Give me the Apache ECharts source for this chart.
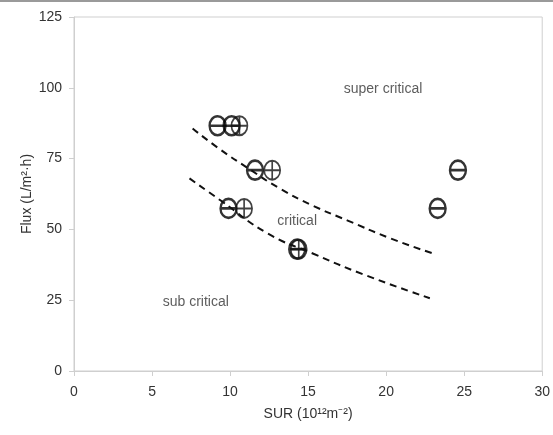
<!DOCTYPE html>
<html>
<head>
<meta charset="utf-8">
<script src="https://cdn.jsdelivr.net/npm/echarts@6/dist/echarts.min.js"></script>
<style>
  html, body { margin: 0; padding: 0; background: #fff; }
  #chart { width: 553px; height: 435px; }
</style>
</head>
<body>
<div id="chart"></div>
<script>
const xTicks = [0, 5, 10, 15, 20, 25, 30];
const yTicks = [0, 25, 50, 75, 100, 125];

// circle with horizontal bar
const barPoints = [
  [9.2, 86.6], [10.1, 86.6], [11.6, 70.9], [9.9, 57.4],
  [14.3, 43.0], [23.3, 57.4], [24.6, 70.9],
];
// circle with cross
const crossPoints = [
  [10.6, 86.6], [12.7, 70.9], [10.9, 57.4], [14.4, 43.0],
];

// dashed boundaries
const upperLine = [
  [7.6, 85.6], [9.3, 78.5], [11.1, 71.8], [13.2, 64.4],
  [15.3, 58.4], [17.5, 53.2], [20.2, 47.0], [23.0, 41.5],
];
const lowerLine = [
  [7.4, 68.0], [9.4, 60.2], [12.4, 48.6], [15.3, 41.5],
  [18.5, 34.2], [22.8, 25.7],
];

const regionLabels = ["super critical", "critical", "sub critical"];
const regionPos = [[19.8, 99.6], [14.3, 52.8], [7.8, 24.3]];

const ringBar = "path://M0,10 A10,10 0 1,1 20,10 A10,10 0 1,1 0,10 Z M0,10 L20,10";
const ringCross = "path://M0,10 A10,10 0 1,1 20,10 A10,10 0 1,1 0,10 Z M0,10 L20,10 M10,0 L10,20";

const font = "Liberation Sans, Arial, sans-serif";
const chart = echarts.init(document.getElementById("chart"));

chart.setOption({
  animation: false,
  backgroundColor: "#fff",
  grid: {
    left: 74, right: 10, top: 17, bottom: 64,
    show: true, borderColor: "#cfcfcf", borderWidth: 1,
  },
  xAxis: {
    type: "value",
    min: 0, max: 30, interval: 5,
    name: "SUR (10¹²m⁻²)",
    nameLocation: "middle",
    nameGap: 36,
    nameTextStyle: { color: "#333", fontSize: 14, fontFamily: font },
    axisLine: { lineStyle: { color: "#cfcfcf" } },
    axisTick: { show: true, length: 5, lineStyle: { color: "#cfcfcf" } },
    axisLabel: { color: "#333", fontSize: 14, fontFamily: font, margin: 14,
      formatter: (v) => (xTicks.includes(v) ? String(v) : "") },
    splitLine: { show: false },
  },
  yAxis: {
    type: "value",
    min: 0, max: 125, interval: 25,
    name: "Flux (L/m²·h)",
    nameLocation: "middle",
    nameGap: 40,
    nameMoveOverlap: false,
    nameTextStyle: { color: "#333", fontSize: 14, fontFamily: font },
    axisLine: { show: true, lineStyle: { color: "#cfcfcf" } },
    axisTick: { show: true, length: 5, lineStyle: { color: "#cfcfcf" } },
    axisLabel: { color: "#333", fontSize: 14, fontFamily: font, margin: 12,
      formatter: (v) => (yTicks.includes(v) ? String(v) : "") },
    splitLine: { show: false },
  },
  graphic: [
    { type: "rect", shape: { x: 0, y: 0, width: 553, height: 2 },
      style: { fill: "#9a9a9a" } },
  ],
  series: [
    {
      type: "line", data: upperLine, smooth: true, symbol: "none",
      lineStyle: { color: "#111", width: 2, type: [7, 5] },
    },
    {
      type: "line", data: lowerLine, smooth: true, symbol: "none",
      lineStyle: { color: "#111", width: 2, type: [7, 5] },
    },
    {
      type: "scatter", data: barPoints, symbol: ringBar, symbolSize: [16, 19],
      itemStyle: { color: "transparent", borderColor: "#000", borderWidth: 2.5 },
    },
    {
      type: "scatter", data: crossPoints, symbol: ringCross, symbolSize: [16, 19],
      itemStyle: { color: "transparent", borderColor: "#111", borderWidth: 1.8 },
    },
    {
      type: "scatter", symbolSize: 0, silent: true,
      data: regionPos.map((p, i) => ({ value: p, name: regionLabels[i] })),
      label: {
        show: true, position: "inside", formatter: "{b}",
        color: "#333", fontSize: 14, fontFamily: font,
      },
    },
  ],
});
</script>
</body>
</html>
